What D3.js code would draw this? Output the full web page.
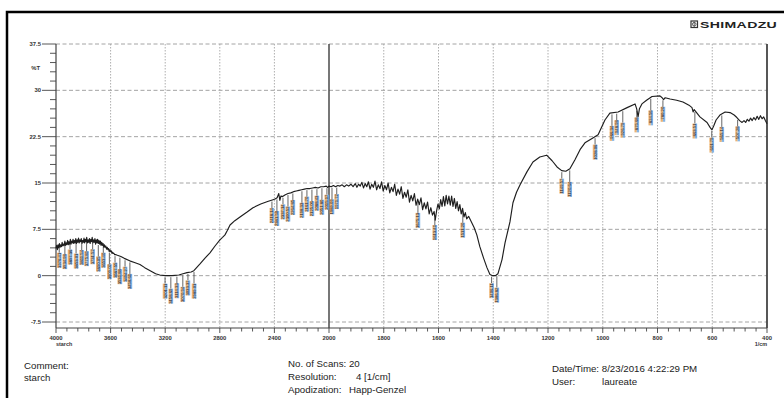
<!DOCTYPE html>
<html>
<head>
<meta charset="utf-8">
<script src="https://cdn.jsdelivr.net/npm/d3@7"></script>
<style>
    html, body { margin: 0; padding: 0; background: #fff; }
    svg { display: block; }
</style>
</head>
<body>
<svg id="chart"></svg>
<script>
// [wavenumber 1/cm, %T]
const spectrum = [
    [4000, 4.4], [3995, 4.9], [3990, 4.2], [3985, 5.0], [3980, 4.5], [3975, 5.2], [3970, 4.6], [3965, 5.0],
    [3960, 4.7], [3955, 5.4], [3950, 4.8], [3945, 5.1], [3940, 4.9], [3935, 5.6], [3930, 4.9], [3925, 5.3],
    [3920, 5.0], [3915, 5.7], [3910, 5.0], [3905, 5.5], [3900, 5.1], [3895, 5.9], [3890, 5.1], [3885, 5.6],
    [3880, 5.3], [3875, 5.9], [3870, 5.2], [3865, 5.7], [3860, 5.3], [3855, 6.0], [3850, 5.2], [3845, 5.8],
    [3840, 5.4], [3835, 6.1], [3830, 5.3], [3825, 5.8], [3820, 5.5], [3815, 6.0], [3810, 5.2], [3805, 5.7],
    [3800, 5.4], [3795, 6.1], [3790, 5.3], [3785, 5.9], [3780, 5.5], [3775, 6.2], [3770, 5.3], [3765, 5.8],
    [3760, 5.4], [3755, 6.0], [3750, 5.2], [3745, 5.9], [3740, 5.5], [3735, 6.2], [3730, 5.3], [3725, 5.8],
    [3720, 5.4], [3715, 6.0], [3710, 5.1], [3705, 5.8], [3700, 5.3], [3695, 5.9], [3690, 5.2], [3685, 5.7],
    [3680, 5.1], [3675, 5.6], [3670, 4.9], [3665, 5.4], [3660, 4.9], [3655, 5.2], [3650, 4.6], [3645, 5.0],
    [3640, 4.6], [3635, 4.8], [3630, 4.3], [3625, 4.6], [3620, 4.2], [3615, 4.4], [3610, 3.9], [3605, 4.2],
    [3600, 3.9], [3595, 4.0], [3590, 3.6], [3585, 3.8], [3580, 3.6], [3575, 3.6], [3570, 3.4], [3560, 3.4],
    [3550, 3.3],
    [3525, 3.1], [3500, 2.8], [3460, 2.4], [3420, 2.1], [3385, 1.8], [3350, 1.3], [3310, 0.8], [3270, 0.3],
    [3240, 0.1], [3200, 0.0], [3150, 0.0], [3100, 0.1], [3070, 0.3], [3040, 0.5], [3010, 0.6], [2990, 0.8],
    [2970, 1.3], [2945, 1.9], [2910, 2.8], [2872, 3.7], [2835, 4.8], [2799, 5.8], [2780, 6.2], [2762, 6.6],
    [2745, 7.3], [2725, 8.2], [2690, 8.9], [2652, 9.5], [2600, 10.3], [2557, 11.0], [2500, 11.6], [2450, 12.0],
    [2410, 12.3], [2395, 12.4], [2380, 12.6], [2368, 13.3], [2360, 12.2], [2352, 12.9], [2340, 12.8],
    [2320, 13.1], [2300, 13.3], [2280, 13.4], [2260, 13.6], [2240, 13.7], [2220, 13.8], [2200, 13.9],
    [2180, 14.0], [2160, 14.1], [2140, 14.1], [2120, 14.2], [2100, 14.3], [2080, 14.2], [2060, 14.4],
    [2040, 14.4], [2020, 14.5], [2010, 14.3],
    [2000, 14.5], [1992, 14.4], [1984, 14.6], [1976, 14.4], [1968, 14.6], [1960, 14.5], [1952, 14.7], [1944, 14.4],
    [1936, 14.7], [1928, 14.5], [1920, 14.8], [1912, 14.4], [1904, 14.9], [1898, 14.3], [1892, 14.8], [1886, 14.5],
    [1880, 15.1], [1874, 14.2], [1868, 14.9], [1862, 14.4], [1856, 15.2], [1850, 14.0], [1844, 14.8], [1838, 14.3],
    [1832, 15.3], [1826, 13.9], [1820, 14.7], [1814, 14.1], [1808, 15.2], [1802, 13.7], [1796, 14.6], [1790, 13.9],
    [1784, 15.0], [1778, 13.4], [1772, 14.3], [1766, 13.6], [1760, 14.8], [1754, 13.0], [1748, 14.0], [1742, 13.2],
    [1736, 14.4], [1730, 12.5], [1724, 13.5], [1718, 12.7], [1712, 13.9], [1706, 11.9], [1700, 13.0], [1694, 12.1],
    [1688, 13.3], [1682, 11.4], [1676, 12.4], [1670, 11.5], [1664, 12.6], [1658, 10.7], [1652, 11.8], [1646, 10.8],
    [1640, 11.9], [1634, 10.0], [1628, 11.0], [1622, 9.8], [1616, 10.4], [1612, 9.0], [1607, 10.5], [1602, 11.6],
    [1597, 10.8], [1592, 12.3], [1587, 11.2], [1582, 12.8], [1577, 11.3], [1572, 13.0], [1567, 11.6], [1562, 12.9],
    [1557, 11.4], [1552, 12.9], [1547, 11.2], [1542, 12.5], [1537, 10.9], [1532, 12.0], [1527, 10.5], [1522, 11.5],
    [1517, 10.0], [1512, 10.9], [1507, 9.5], [1502, 10.2], [1497, 9.2], [1490, 9.6], [1482, 8.9],
    [1470, 7.8], [1460, 6.6], [1449, 4.7], [1435, 2.8], [1423, 1.3], [1412, 0.2], [1402, 0.0], [1392, 0.0],
    [1383, 0.3], [1368, 2.6], [1357, 5.3], [1339, 8.7], [1328, 11.8], [1315, 13.5], [1302, 14.7], [1277, 16.8],
    [1255, 18.4], [1230, 19.2], [1205, 19.5], [1185, 18.6], [1167, 17.6], [1150, 17.0], [1135, 16.9], [1120, 17.3],
    [1101, 18.8], [1083, 20.4], [1065, 21.5], [1036, 22.3], [1017, 22.8], [992, 25.2], [974, 26.3], [944, 26.5],
    [911, 27.2], [882, 27.8], [876, 27.0], [871, 25.7], [866, 27.0], [857, 27.8], [840, 28.4], [820, 29.0],
    [791, 29.1], [783, 28.8], [778, 28.5], [772, 28.8], [754, 28.6], [730, 28.4], [707, 28.1], [685, 27.6],
    [674, 27.2], [670, 26.5], [666, 26.9], [663, 26.7], [645, 25.7], [619, 24.8], [608, 24.0], [601, 23.6],
    [594, 24.3], [586, 25.2], [572, 26.0], [553, 26.5], [535, 26.4], [520, 26.0], [510, 25.6], [500, 25.1],
    [491, 24.8], [484, 25.1], [478, 24.8], [472, 25.3], [466, 25.0], [460, 25.5], [454, 25.1], [448, 25.6],
    [442, 25.2], [436, 25.8], [430, 25.3], [424, 25.9], [418, 25.4], [412, 25.7], [406, 25.1], [400, 24.6]
]

// peak picks (labels too small to read, values estimated from their position)
const peaks = [
    3976.41, 3934.98, 3897.36, 3853.01, 3811.54, 3775.89, 3731.52, 3690.05, 3653.40, 3609.02, 3567.55, 3531.88,
    3494.27, 3458.61,
    3201.11, 3158.69, 3114.33, 3070.94, 3033.37, 2989.01,
    2418.14, 2381.50, 2337.14, 2300.52, 2264.85, 2198.33, 2161.70, 2125.06, 2088.43, 2051.80, 2015.17,
    1989.09, 1971.72,
    1675.13, 1613.41, 1511.20, 1406.11, 1386.82,
    1149.57, 1120.64, 1028.06, 966.34, 948.98, 926.79, 875.68, 824.56, 780.20, 663.51, 601.79, 565.14, 507.28
]

const xTicks = [4000, 3600, 3200, 2800, 2400, 2000, 1800, 1600, 1400, 1200, 1000, 800, 600, 400]
const yTicks = [37.5, 30, 22.5, 15, 7.5, 0, -7.5]

const infoLeft = ["Comment:", "starch"]
const infoMiddle = [["No. of Scans: 20", ""], ["Resolution:", "4 [1/cm]"], ["Apodization:", "Happ-Genzel"]]
const infoRight = [["Date/Time: 8/23/2016 4:22:29 PM", ""], ["User:", "laureate"]]

const width = 784
const height = 398
const plotLeft = 56
const plotRight = 767
const plotTop = 44
const gridBottom = 322
const frameBottom = 328
const stretch = 1.13 // the scan is a little wider than tall

const svg = d3.select("#chart")
    .attr("width", width)
    .attr("height", height)
    .attr("viewBox", [0, 0, width, height])
    .style("font-family", "'Liberation Sans', Arial, sans-serif")

// the printout halves the scale below 2000 1/cm
const x = d3.scaleLinear().domain([4000, 2000, 400]).range([plotLeft, 329, plotRight])
const y = d3.scaleLinear().domain([-7.5, 37.5]).range([gridBottom, plotTop])

const place = (tx, ty) => `translate(${tx},${ty}) scale(${stretch},1)`

// outer page frame
svg.append("rect")
    .attr("x", 7).attr("y", 12)
    .attr("width", 800).attr("height", 420)
    .attr("fill", "none")
    .attr("stroke", "#000")
    .attr("stroke-width", 2.5)

// logo
const logo = svg.append("g").attr("transform", "translate(691,21)")
logo.append("rect").attr("width", 6.5).attr("height", 6.5).attr("fill", "none").attr("stroke", "#333").attr("stroke-width", 1.2)
logo.append("circle").attr("cx", 3.25).attr("cy", 3.25).attr("r", 1.8).attr("fill", "none").attr("stroke", "#333").attr("stroke-width", 0.8)
logo.append("line").attr("x1", 3.25).attr("x2", 3.25).attr("y1", 0.8).attr("y2", 5.7).attr("stroke", "#333").attr("stroke-width", 0.7)
svg.append("text")
    .attr("transform", "translate(700,27.5) scale(1.68,1)")
    .attr("font-size", 8.4)
    .attr("font-weight", "bold")
    .attr("fill", "#222")
    .attr("letter-spacing", 0.2)
    .text("SHIMADZU")

// grid
const grid = svg.append("g")
grid.selectAll("line.h")
    .data(yTicks)
    .join("line")
    .attr("class", "h")
    .attr("x1", plotLeft).attr("x2", plotRight)
    .attr("y1", (d) => y(d)).attr("y2", (d) => y(d))
    .attr("stroke", "#9a9a9a")
    .attr("stroke-width", 0.9)
    .attr("stroke-dasharray", "4,2.5")

grid.selectAll("line.v")
    .data(xTicks.filter((d) => d !== 4000 && d !== 400 && d !== 2000))
    .join("line")
    .attr("class", "v")
    .attr("x1", (d) => x(d)).attr("x2", (d) => x(d))
    .attr("y1", plotTop).attr("y2", frameBottom)
    .attr("stroke", "#a5a5a5")
    .attr("stroke-width", 0.9)
    .attr("stroke-dasharray", "1.5,1.5")

// scale break marker at 2000
svg.append("line")
    .attr("x1", x(2000)).attr("x2", x(2000))
    .attr("y1", plotTop).attr("y2", frameBottom)
    .attr("stroke", "#4a4a4a")
    .attr("stroke-width", 1.5)

// axes frame
svg.append("line").attr("x1", plotLeft).attr("x2", plotLeft).attr("y1", plotTop).attr("y2", frameBottom)
    .attr("stroke", "#444").attr("stroke-width", 1.2)
svg.append("line").attr("x1", plotRight).attr("x2", plotRight).attr("y1", plotTop).attr("y2", frameBottom)
    .attr("stroke", "#444").attr("stroke-width", 1.8)
svg.append("line").attr("x1", plotLeft).attr("x2", plotRight).attr("y1", frameBottom).attr("y2", frameBottom)
    .attr("stroke", "#444").attr("stroke-width", 1.2)

// y ticks
const yMinor = d3.range(-7.5, 37.6, 1.5)
svg.append("g").selectAll("line")
    .data(yMinor)
    .join("line")
    .attr("x1", (d) => (yTicks.includes(+d.toFixed(1)) ? plotLeft - 14 : plotLeft - 6))
    .attr("x2", plotLeft)
    .attr("y1", (d) => y(d)).attr("y2", (d) => y(d))
    .attr("stroke", "#444")
    .attr("stroke-width", 0.9)

svg.append("g").selectAll("text")
    .data(yTicks)
    .join("text")
    .attr("transform", (d) => place(41, y(d) + 2))
    .attr("text-anchor", "end")
    .attr("font-size", 5.2)
    .attr("font-weight", "bold")
    .attr("fill", "#333")
    .text((d) => d)

svg.append("text")
    .attr("transform", place(40, 70))
    .attr("text-anchor", "end")
    .attr("font-size", 5.2)
    .attr("font-weight", "bold")
    .attr("fill", "#333")
    .text("%T")

// x ticks
const xMinor = d3.range(4000, 2000, -80).concat(d3.range(2000, 399, -40))
svg.append("g").selectAll("line")
    .data(xMinor)
    .join("line")
    .attr("x1", (d) => x(d)).attr("x2", (d) => x(d))
    .attr("y1", frameBottom)
    .attr("y2", (d) => (xTicks.includes(d) ? frameBottom + 5 : frameBottom + 3.5))
    .attr("stroke", "#444")
    .attr("stroke-width", 0.9)

svg.append("g").selectAll("text")
    .data(xTicks)
    .join("text")
    .attr("transform", (d) => place(x(d), 340))
    .attr("text-anchor", "middle")
    .attr("font-size", 5.2)
    .attr("font-weight", "bold")
    .attr("fill", "#333")
    .text((d) => d)

svg.append("text").attr("transform", place(plotLeft, 345.5)).attr("font-size", 4.8).attr("font-weight", "bold")
    .attr("fill", "#333").text("starch")
svg.append("text").attr("transform", place(plotRight, 345.5)).attr("text-anchor", "end").attr("font-size", 4.8)
    .attr("font-weight", "bold").attr("fill", "#333").text("1/cm")

// spectrum
const line = d3.line()
    .x((d) => x(d[0]))
    .y((d) => y(d[1]))

svg.append("path")
    .datum(spectrum)
    .attr("d", line)
    .attr("fill", "none")
    .attr("stroke", "#1e1e1e")
    .attr("stroke-width", 1.15)
    .attr("stroke-linejoin", "round")

// %T at any wavenumber, interpolated from the trace
const sorted = spectrum.slice().sort((a, b) => a[0] - b[0])
const bisect = d3.bisector((d) => d[0]).left
const valueAt = (w) => {
    const i = Math.max(1, Math.min(sorted.length - 1, bisect(sorted, w)))
    const a = sorted[i - 1]
    const b = sorted[i]
    const t = (w - a[0]) / (b[0] - a[0])
    return a[1] + (b[1] - a[1]) * t
}

const peakGroup = svg.append("g")
peaks.forEach((p, i) => {
    const px = x(p)
    const py = y(valueAt(p))
    const labelTop = py + 8 + (i % 2) * 5
    peakGroup.append("line")
        .attr("x1", px).attr("x2", px)
        .attr("y1", py + 1.5).attr("y2", labelTop)
        .attr("stroke", "#222")
        .attr("stroke-width", 0.7)
    peakGroup.append("rect")
        .attr("x", px - 2.3).attr("y", labelTop)
        .attr("width", 2.3).attr("height", 15)
        .attr("fill", "#e6a45a")
        .attr("opacity", 0.85)
    peakGroup.append("rect")
        .attr("x", px).attr("y", labelTop)
        .attr("width", 2.3).attr("height", 15)
        .attr("fill", "#6ea8e2")
        .attr("opacity", 0.85)
    peakGroup.append("text")
        .attr("transform", `translate(${px + 1.5},${labelTop}) rotate(-90)`)
        .attr("text-anchor", "end")
        .attr("font-size", 4.2)
        .attr("fill", "#1c1c2a")
        .text(p.toFixed(2))
})

// footer
const footer = svg.append("g").attr("font-size", 8.6).attr("fill", "#222")
footer.selectAll("text.l")
    .data(infoLeft)
    .join("text")
    .attr("class", "l")
    .attr("transform", (d, i) => place(24, 369 + i * 12))
    .text((d) => d)

footer.selectAll("text.m")
    .data(infoMiddle)
    .join("text")
    .attr("class", "m")
    .attr("transform", (d, i) => place(288, 367 + i * 13))
    .text((d) => d[0])
footer.selectAll("text.mv")
    .data(infoMiddle.filter((d) => d[1]))
    .join("text")
    .attr("class", "mv")
    .attr("transform", (d, i) => place(i === 0 ? 356 : 349, 380 + i * 13))
    .text((d) => d[1])

footer.selectAll("text.r")
    .data(infoRight)
    .join("text")
    .attr("class", "r")
    .attr("transform", (d, i) => place(552, 372 + i * 13))
    .text((d) => d[0])
footer.selectAll("text.rv")
    .data(infoRight.filter((d) => d[1]))
    .join("text")
    .attr("class", "rv")
    .attr("transform", place(602, 385))
    .text((d) => d[1])
</script>
</body>
</html>
